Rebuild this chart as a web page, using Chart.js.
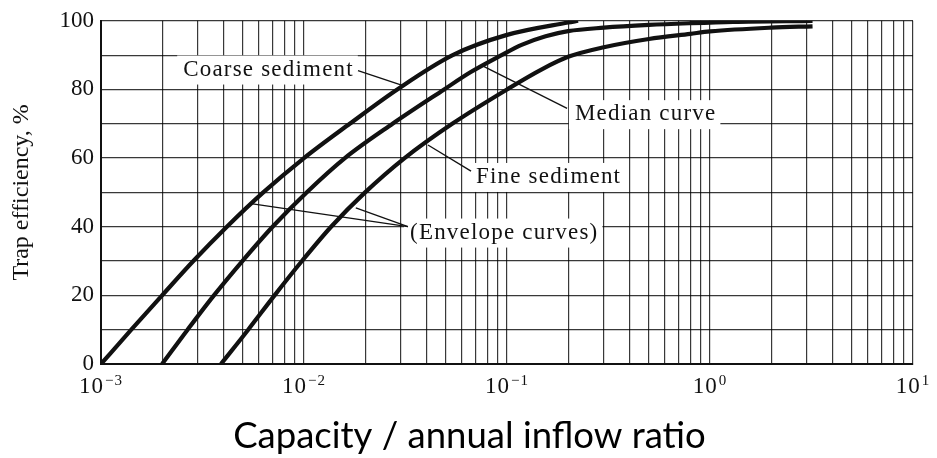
<!DOCTYPE html>
<html>
<head>
<meta charset="utf-8">
<script src="https://cdn.jsdelivr.net/npm/chart.js@4.4.1/dist/chart.umd.min.js"></script>
<style>
  html, body { margin: 0; padding: 0; background: #fff; }
</style>
</head>
<body>
<canvas id="trap-chart" width="937" height="458"></canvas>
<script>
// Brune trap efficiency curves
const coarseX = [0.001, 0.00141, 0.002, 0.00285, 0.00417, 0.0063, 0.01, 0.0168, 0.0288, 0.054, 0.1, 0.2, 0.224];
const coarseY = [0, 10, 20, 30, 40, 50, 60, 70, 80, 90, 95.9, 99.5, 100];

const medianX = [0.002, 0.00267, 0.0036, 0.00497, 0.007, 0.0103, 0.0159, 0.0273, 0.049, 0.066, 0.094, 0.118, 0.155, 0.2, 0.3, 0.5, 0.8, 1.3, 3.2];
const medianY = [0, 10, 20, 30, 40, 50, 60, 70, 80, 85, 90, 93, 95.5, 97, 98, 98.8, 99.3, 99.7, 100];

const fineX = [0.0039, 0.00531, 0.00716, 0.00977, 0.0136, 0.02, 0.0313, 0.0537, 0.1, 0.15, 0.2, 0.3, 0.5, 0.8, 1.0, 2.0, 3.2];
const fineY = [0, 10, 20, 30, 40, 50, 60, 70, 80, 86, 89.5, 92.3, 94.7, 96.2, 96.9, 98.0, 98.4];

// log paper grid: 1..9 in every decade
const xGridValues = [];
[0.001, 0.01, 0.1, 1].forEach((d) => {
  for (let k = 1; k < 10; k++) xGridValues.push(+(d * k).toPrecision(3));
});
xGridValues.push(10);
const xMajorValues = [0.001, 0.01, 0.1, 1, 10];
const xMajorExps = ['\u22123', '\u22122', '\u22121', '0', '1'];

// callouts (anchored in data units)
const labelText = ['Coarse sediment', 'Median curve', 'Fine sediment', '(Envelope curves)'];
const labelX = [0.00254, 0.216, 0.0703, 0.0333];
const labelY = [85.8, 72.8, 54.5, 38.3];
const leaderFromX = [0.01845, 0.1977, 0.0665, 0.0325, 0.0325];
const leaderFromY = [85.5, 74.5, 56.2, 40.0, 40.0];
const leaderToX = [0.0305, 0.075, 0.0408, 0.00548, 0.018];
const leaderToY = [81.2, 87.0, 63.8, 46.7, 45.5];

const SERIF = '"Liberation Serif", "Times New Roman", serif';
const INK = '#111';
const GRID = 'rgba(0,0,0,0.78)';

const pts = (xs, ys) => xs.map((x, i) => ({ x, y: ys[i] }));

function curve(label, xs, ys) {
  return {
    label,
    data: pts(xs, ys),
    borderColor: INK,
    borderWidth: 4.2,
    pointRadius: 0,
    fill: false,
    cubicInterpolationMode: 'monotone',
  };
}

const callouts = {
  id: 'callouts',
  beforeDatasetsDraw(chart) {
    // white patches under the labels break the grid like on the print
    const { ctx, scales: { x, y } } = chart;
    ctx.save();
    ctx.font = '23px ' + SERIF;
    ctx.letterSpacing = '1.2px';
    ctx.fillStyle = '#fff';
    labelText.forEach((t, i) => {
      const px = x.getPixelForValue(labelX[i]);
      const py = y.getPixelForValue(labelY[i]);
      const w = ctx.measureText(t).width;
      ctx.fillRect(px - 6, py - 14, w + 10, 29);
    });
    ctx.restore();
  },
  afterDatasetsDraw(chart) {
    const { ctx, scales: { x, y } } = chart;
    ctx.save();
    ctx.strokeStyle = INK;
    ctx.lineWidth = 1.3;
    leaderFromX.forEach((fx, i) => {
      ctx.beginPath();
      ctx.moveTo(x.getPixelForValue(fx), y.getPixelForValue(leaderFromY[i]));
      ctx.lineTo(x.getPixelForValue(leaderToX[i]), y.getPixelForValue(leaderToY[i]));
      ctx.stroke();
    });

    ctx.fillStyle = INK;
    ctx.font = '23px ' + SERIF;
    ctx.letterSpacing = '1.2px';
    ctx.textAlign = 'left';
    ctx.textBaseline = 'middle';
    labelText.forEach((t, i) => {
      ctx.fillText(t, x.getPixelForValue(labelX[i]), y.getPixelForValue(labelY[i]));
    });

    // x tick labels as 10 with a raised exponent
    ctx.textBaseline = 'alphabetic';
    ctx.letterSpacing = '1px';
    const baseY = chart.chartArea.bottom + 29;
    xMajorValues.forEach((v, i) => {
      const cx = x.getPixelForValue(v);
      ctx.font = '23px ' + SERIF;
      const w1 = ctx.measureText('10').width;
      ctx.font = '15px ' + SERIF;
      const w2 = ctx.measureText(xMajorExps[i]).width;
      const left = cx - (w1 + 1 + w2) / 2;
      ctx.font = '23px ' + SERIF;
      ctx.fillText('10', left, baseY);
      ctx.font = '15px ' + SERIF;
      ctx.fillText(xMajorExps[i], left + w1 + 1, baseY - 8);
    });
    ctx.restore();
  },
};

new Chart(document.getElementById('trap-chart'), {
  type: 'line',
  data: {
    datasets: [
      curve('Coarse sediment', coarseX, coarseY),
      curve('Median curve', medianX, medianY),
      curve('Fine sediment', fineX, fineY),
    ],
  },
  options: {
    responsive: false,
    animation: false,
    devicePixelRatio: 1,
    layout: { padding: { left: 26, right: 24, top: 19, bottom: 0 } },
    plugins: {
      legend: { display: false },
      tooltip: { enabled: false },
      title: {
        display: true,
        position: 'bottom',
        text: 'Capacity / annual inflow ratio',
        color: '#000',
        font: { family: 'Lato, "Open Sans", sans-serif', size: 36.5, weight: 'normal', lineHeight: 1.2 },
        padding: { top: 7, bottom: 0 },
      },
    },
    scales: {
      x: {
        type: 'logarithmic',
        min: 0.001,
        max: 10,
        afterBuildTicks: (s) => {
          s.ticks = xGridValues.map((v) => ({ value: v }));
        },
        afterFit: (s) => {
          s.height = 43.2;
        },
        ticks: { display: false, autoSkip: false },
        grid: { color: GRID, lineWidth: 1.2, drawTicks: false },
        border: { color: INK, width: 2 },
      },
      y: {
        min: 0,
        max: 100,
        afterFit: (s) => {
          s.width = 75;
        },
        ticks: {
          stepSize: 10,
          autoSkip: false,
          padding: 7,
          color: INK,
          font: { family: SERIF, size: 23 },
          callback: (v) => (v % 20 === 0 ? v : ''),
        },
        grid: { color: GRID, lineWidth: 1.2, drawTicks: false },
        border: { color: INK, width: 2 },
        title: {
          display: true,
          text: 'Trap efficiency, %',
          color: INK,
          font: { family: SERIF, size: 24 },
          padding: { top: -18.4, bottom: 0 },
        },
      },
    },
  },
  plugins: [callouts],
});
</script>
</body>
</html>
